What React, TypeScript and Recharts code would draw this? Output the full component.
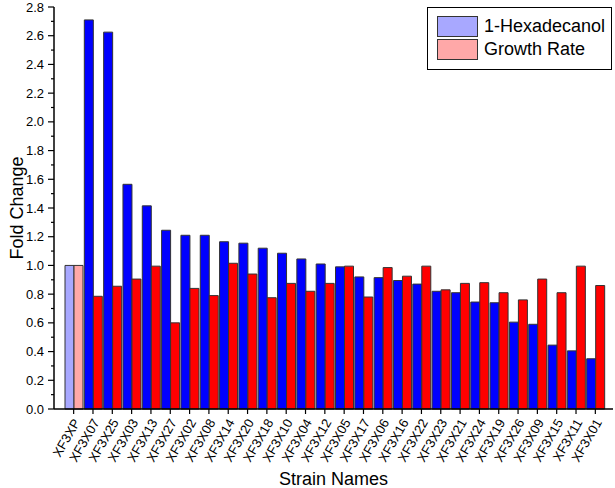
import { BarChart, Bar, XAxis, YAxis, Cell, Label } from "recharts";

const categories = [
  "XF3XP", "XF3X07", "XF3X25", "XF3X03", "XF3X13", "XF3X27", "XF3X02",
  "XF3X08", "XF3X14", "XF3X20", "XF3X18", "XF3X10", "XF3X04", "XF3X12",
  "XF3X05", "XF3X17", "XF3X06", "XF3X16", "XF3X22", "XF3X23", "XF3X21",
  "XF3X24", "XF3X19", "XF3X26", "XF3X09", "XF3X15", "XF3X11", "XF3X01",
];
const hexadecanol = [
  1.0, 2.71, 2.625, 1.565, 1.415, 1.245, 1.21, 1.21, 1.165, 1.155, 1.12,
  1.085, 1.045, 1.01, 0.99, 0.92, 0.915, 0.895, 0.87, 0.82, 0.81, 0.745,
  0.74, 0.605, 0.59, 0.445, 0.405, 0.35,
];
const growthRate = [
  1.0, 0.785, 0.855, 0.905, 0.995, 0.6, 0.84, 0.79, 1.015, 0.94, 0.775,
  0.875, 0.82, 0.875, 0.995, 0.78, 0.985, 0.925, 0.995, 0.83, 0.875, 0.88,
  0.81, 0.76, 0.905, 0.81, 0.995, 0.86,
];
const yTicks = [
  0, 0.1, 0.2, 0.3, 0.4, 0.5, 0.6, 0.7, 0.8, 0.9, 1.0, 1.1, 1.2, 1.3, 1.4,
  1.5, 1.6, 1.7, 1.8, 1.9, 2.0, 2.1, 2.2, 2.3, 2.4, 2.5, 2.6, 2.7, 2.8,
];

const data = categories.map((name, i) => ({
  name,
  hex: hexadecanol[i],
  growth: growthRate[i],
}));

const FONT = "'Liberation Sans', Arial, sans-serif";
const BLUE = "#0000ff";
const RED = "#ff0000";
const BLUE_LIGHT = "#a8a8ff";
const RED_LIGHT = "#ffa8a8";
const EDGE = "#333333";

const YTick = ({ x, y, payload }: any) => {
  const v = payload.value as number;
  const major = Math.round(v * 10) % 2 === 0;
  return (
    <g>
      <line x1={x} x2={x - (major ? 6 : 3)} y1={y} y2={y} stroke="#000" strokeWidth={1.2} />
      {major && (
        <text x={x - 10} y={y} dy="0.35em" textAnchor="end" fontSize={13} fontFamily={FONT} fill="#000">
          {v.toFixed(1)}
        </text>
      )}
    </g>
  );
};

const XTick = ({ x, y, payload }: any) => (
  <g>
    <line x1={x} x2={x} y1={y} y2={y + 5} stroke="#000" strokeWidth={1.2} />
    <text
      x={x + 3}
      y={y + 11}
      dy="0.35em"
      textAnchor="end"
      fontSize={13}
      fontFamily={FONT}
      fill="#000"
      transform={`rotate(-60, ${x + 3}, ${y + 11})`}
    >
      {payload.value}
    </text>
  </g>
);

const Swatch = ({ color }: { color: string }) => (
  <span
    style={{
      display: "inline-block",
      width: 39,
      height: 19,
      background: color,
      border: `1px solid ${EDGE}`,
      marginRight: 6,
    }}
  />
);

export default function App() {
  return (
    <div style={{ position: "fixed", left: 0, top: 0, width: 615, height: 488, background: "#fff" }}>
      <BarChart
        width={615}
        height={488}
        data={data}
        margin={{ top: 7, right: 2, left: 0, bottom: 0 }}
        barCategoryGap={1}
        barGap={0}
      >
        <XAxis
          dataKey="name"
          height={79}
          interval={0}
          padding={{ left: 10, right: 8 }}
          tickLine={false}
          tickSize={0}
          tickMargin={0}
          tick={<XTick />}
          axisLine={{ stroke: "#000", strokeWidth: 1.5 }}
        >
          <Label
            value="Strain Names"
            position="insideBottom"
            offset={3}
            style={{ fontSize: 18, fontFamily: FONT, fill: "#000" }}
          />
        </XAxis>
        <XAxis xAxisId="top" dataKey="name" orientation="top" height={0} tick={false} tickLine={false} axisLine={{ stroke: "#000", strokeWidth: 1.5 }} />
        <YAxis
          width={54}
          domain={[0, 2.8]}
          ticks={yTicks}
          interval={0}
          tickLine={false}
          tickSize={0}
          tickMargin={0}
          tick={<YTick />}
          axisLine={{ stroke: "#000", strokeWidth: 1.5 }}
        >
          <Label
            value="Fold Change"
            angle={-90}
            position="insideLeft"
            offset={17}
            style={{ fontSize: 18, fontFamily: FONT, fill: "#000", textAnchor: "middle" }}
          />
        </YAxis>
        <YAxis yAxisId="right" orientation="right" width={0} domain={[0, 2.8]} tick={false} tickLine={false} axisLine={{ stroke: "#000", strokeWidth: 1.5 }} />
        <Bar dataKey="hex" name="1-Hexadecanol" fill={BLUE} stroke={EDGE} strokeWidth={1} isAnimationActive={false}>
          {data.map((_, i) => (
            <Cell key={i} fill={i === 0 ? BLUE_LIGHT : BLUE} />
          ))}
        </Bar>
        <Bar dataKey="growth" name="Growth Rate" fill={RED} stroke={EDGE} strokeWidth={1} isAnimationActive={false}>
          {data.map((_, i) => (
            <Cell key={i} fill={i === 0 ? RED_LIGHT : RED} />
          ))}
        </Bar>
      </BarChart>
      <div
        style={{
          position: "absolute",
          left: 427,
          top: 7,
          width: 185,
          height: 63,
          boxSizing: "border-box",
          border: "1.5px solid #000",
          padding: "7px 0 0 9px",
          fontFamily: FONT,
          fontSize: 18,
          lineHeight: "23px",
        }}
      >
        <div style={{ display: "flex", alignItems: "center" }}>
          <Swatch color={BLUE_LIGHT} />
          1-Hexadecanol
        </div>
        <div style={{ display: "flex", alignItems: "center" }}>
          <Swatch color={RED_LIGHT} />
          Growth Rate
        </div>
      </div>
    </div>
  );
}
